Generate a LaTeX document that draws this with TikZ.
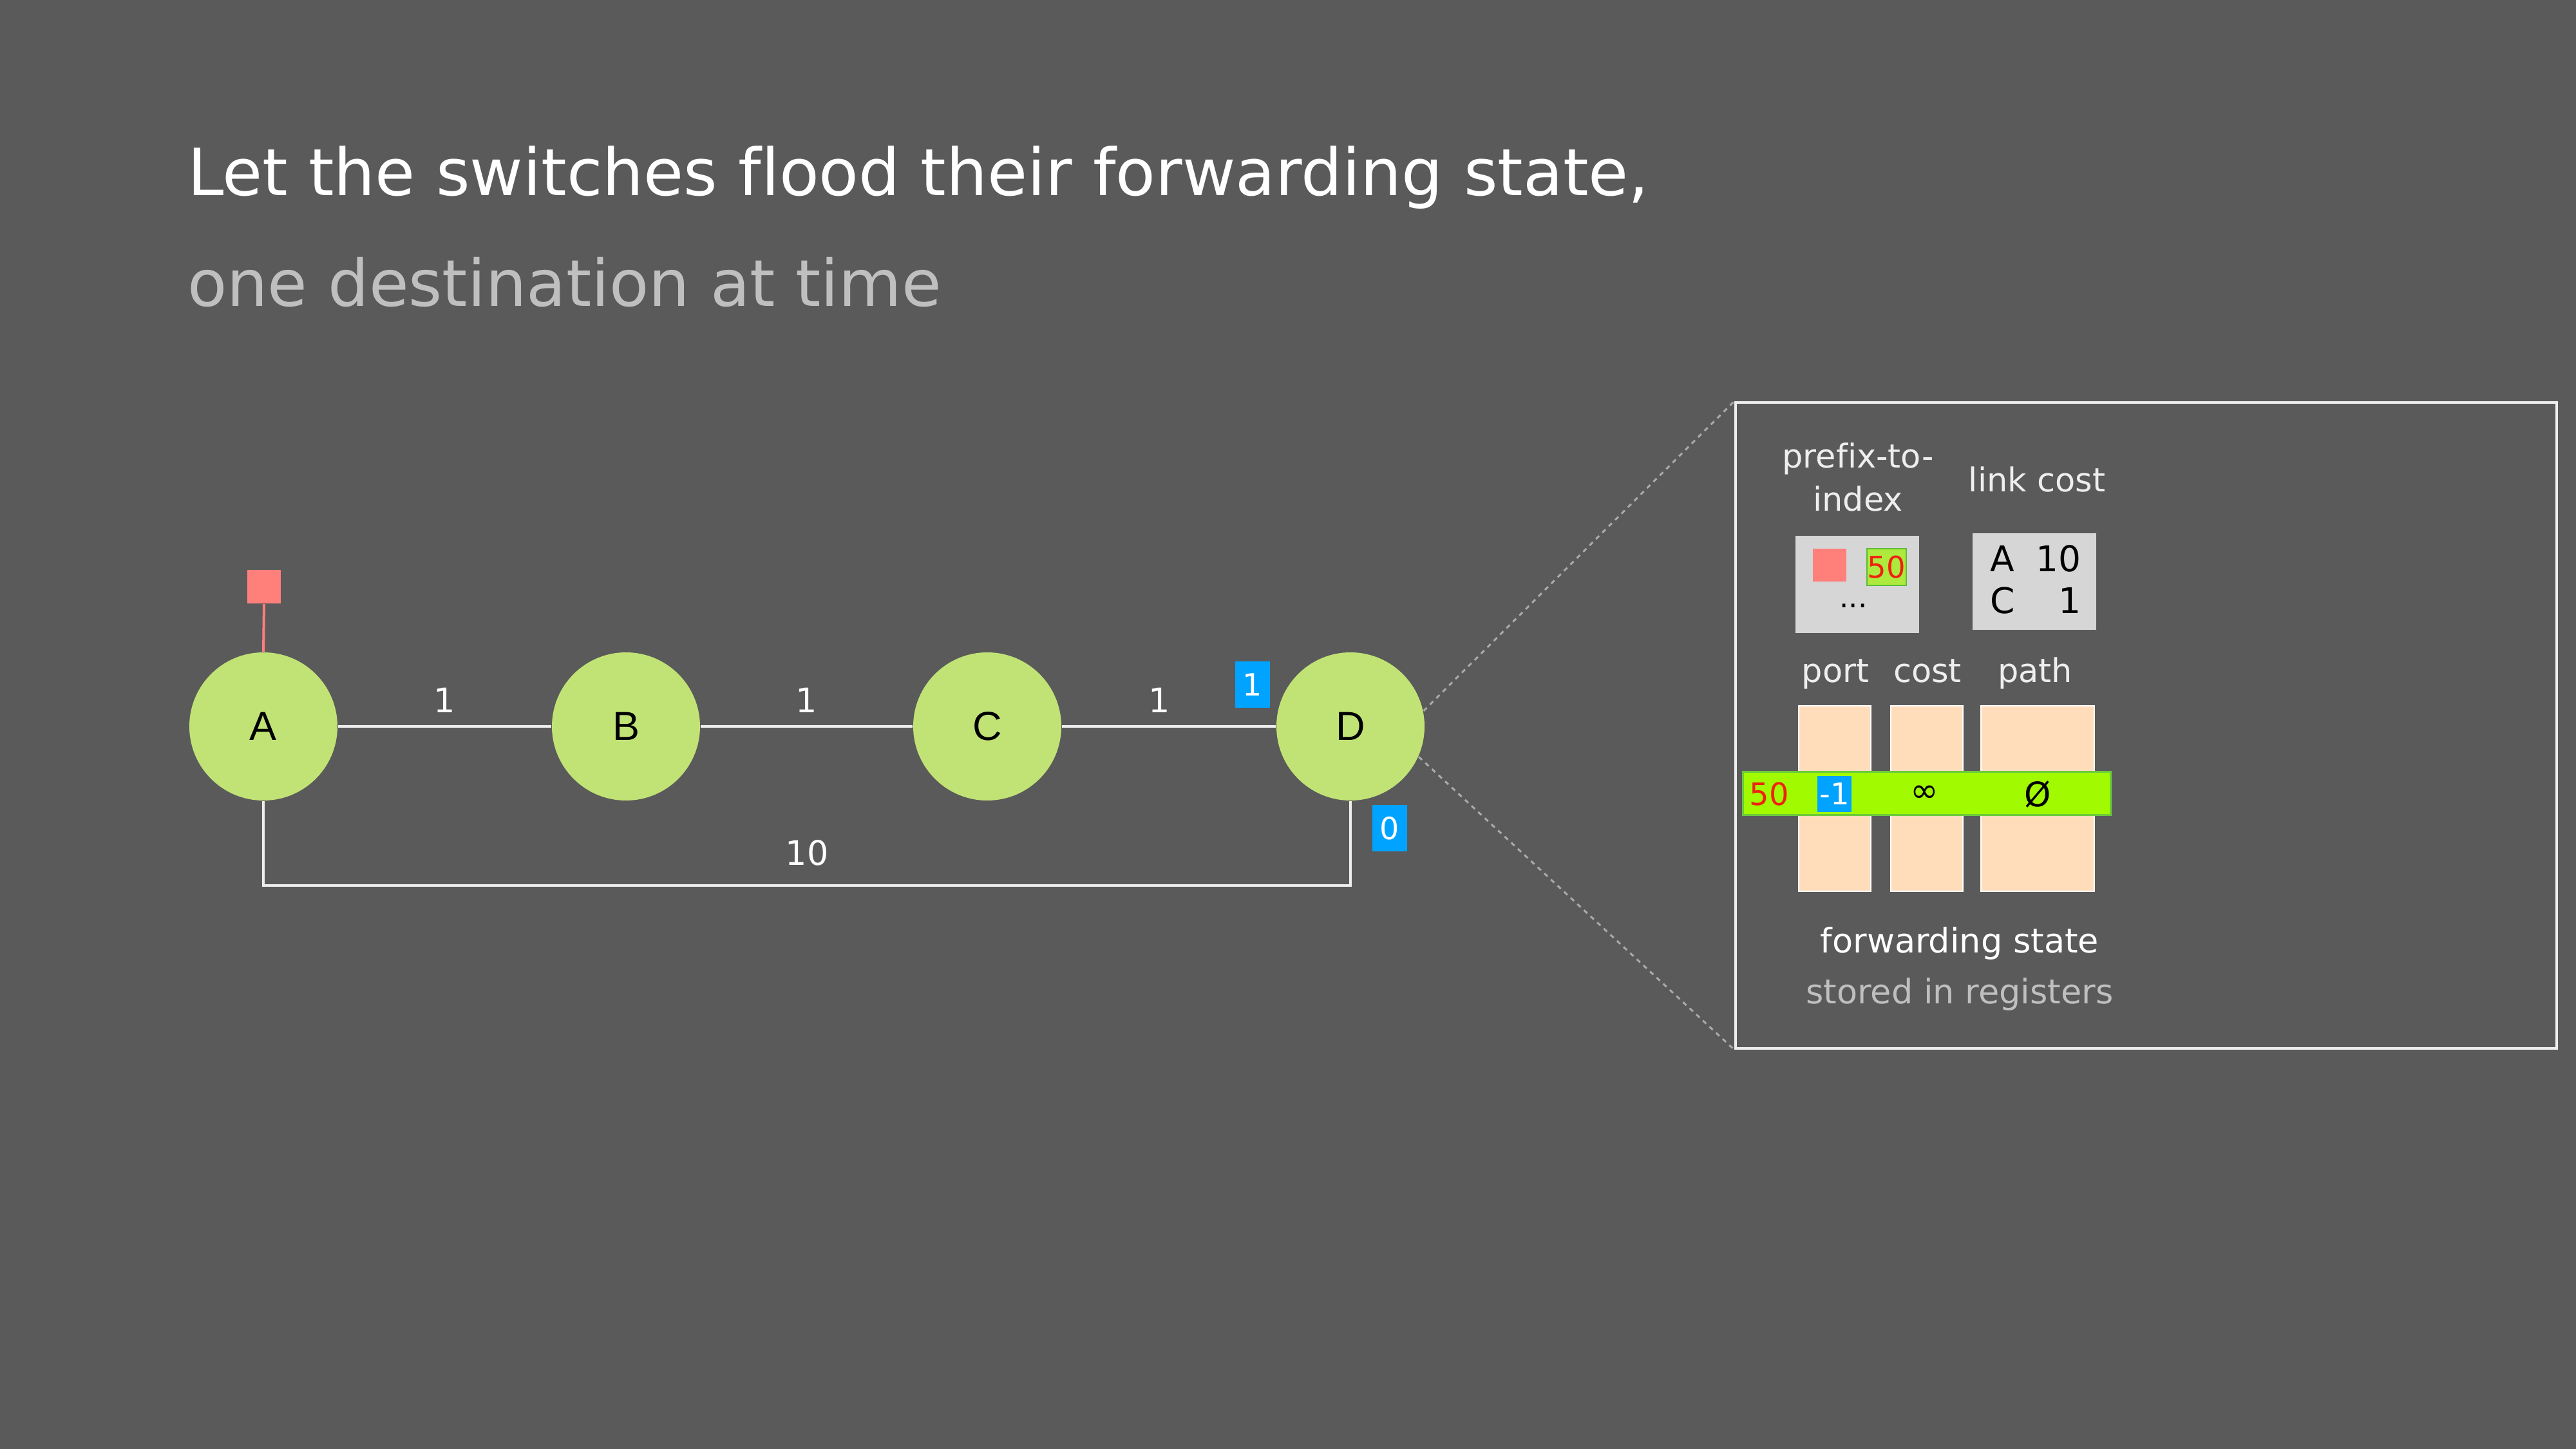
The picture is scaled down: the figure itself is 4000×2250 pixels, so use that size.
\documentclass[tikz,border=0pt]{standalone}
\usepackage{fontspec}
\setmainfont[Ligatures={NoCommon}]{DejaVu Sans}
\newfontfamily\helv{Liberation Sans}
\definecolor{bg}{HTML}{5A5A5A}
\definecolor{nodegreen}{HTML}{C1E376}
\definecolor{pfxred}{HTML}{FF7F7B}
\definecolor{portblue}{HTML}{00A3FF}
\definecolor{linegray}{HTML}{EEEEEE}
\definecolor{subgray}{HTML}{BFBFBF}
\definecolor{boxgray}{HTML}{D6D6D6}
\definecolor{peach}{HTML}{FFDDBB}
\definecolor{bargreen}{HTML}{A2FA00}
\definecolor{barborder}{HTML}{6BCB3A}
\definecolor{smallgreen}{HTML}{AEEA3E}
\definecolor{smallborder}{HTML}{5BBB3A}
\definecolor{numred}{HTML}{EE2211}
\definecolor{dashgray}{HTML}{AAAAAA}
\tikzset{
  switch/.style={circle, fill=nodegreen, minimum size=46pt, inner sep=0pt,
    font=\helv\fontsize{12.6}{14}\selectfont, text=black},
  link/.style={draw=linegray, line width=0.85pt},
  costlbl/.style={font=\fontsize{10.5}{12}\selectfont, text=white, inner sep=0pt},
  portbox/.style={fill=portblue, text=white, inner sep=0pt, minimum width=10.8pt,
    minimum height=14.4pt, font=\fontsize{9.5}{11}\selectfont},
  panellbl/.style={font=\fontsize{10.2}{12}\selectfont, text=linegray, inner sep=0pt},
  graybox/.style={fill=boxgray, inner sep=0pt},
  column/.style={fill=peach, draw=white, line width=0.5pt, inner sep=0pt},
  zoomline/.style={draw=dashgray, line width=0.6pt, dash pattern=on 1.4pt off 1.4pt},
}
\begin{document}
\begin{tikzpicture}[x=0.2pt, y=-0.2pt]
\fill[bg] (0,0) rectangle (4000,2250);
\useasboundingbox (0,0) rectangle (4000,2250);

% titles
\node[anchor=base west, inner sep=0pt, text=white, font=\fontsize{20.2}{24}\selectfont]
  (title) at (290,304) {Let the switches flood their forwarding state,};
\node[anchor=base west, inner sep=0pt, text=subgray, font=\fontsize{20.05}{24}\selectfont]
  (subtitle) at (290,476) {one destination at time};

% switches
\node[switch] (A) at (409,1128) {A};
\node[switch] (B) at (972,1128) {B};
\node[switch] (C) at (1533,1128) {C};
\node[switch] (D) at (2097,1128) {D};

% prefix square
\node[fill=pfxred, minimum size=10.4pt, inner sep=0pt] (pfx) at (410,911) {};
\draw[draw=pfxred, line width=0.8pt] (pfx.south) -- (A.north);

% links
\draw[link] (A) -- node[costlbl, above=3.8pt] {1} (B);
\draw[link] (B) -- node[costlbl, above=3.8pt] {1} (C);
\draw[link] (C) -- node[costlbl, above=3.8pt, pos=0.455] {1} (D);
\coordinate (AD) at (1253,1375);
\draw[link, line width=0.8pt] (A.south) |- (AD) -| node[costlbl, pos=0, above=5.8pt] {10} (D.south);

% port labels
\node[portbox] (p1) at (1945,1063) {1};
\node[portbox] (p0) at (2158,1286) {0};

% zoom panel
\node[draw=linegray, line width=0.8pt, minimum width=255pt, minimum height=200.6pt,
  inner sep=0pt] (panel) at (3332.5,1126.5) {};
\draw[zoomline] (D.12) -- (panel.north west);
\draw[zoomline] (D.-24) -- (panel.south west);

% prefix-to-index
\node[panellbl, anchor=base] (pti1) at (2885,727) {prefix-to-};
\node[panellbl, anchor=base] (pti2) at (2885,794) {index};
\node[panellbl, anchor=base] (lc) at (3163,763) {link cost};

\node[graybox, minimum width=38.4pt, minimum height=30.2pt] (pbox) at (2884,907.5) {};
\node[fill=pfxred, minimum width=10.4pt, minimum height=10.2pt, inner sep=0pt] (psq) at (2841,877.5) {};
\node[fill=smallgreen, draw=smallborder, line width=0.5pt, minimum width=12.2pt,
  minimum height=11.4pt, inner sep=0pt, text=numred, font=\fontsize{9.3}{11}\selectfont]
  (p50) at (2929.5,880.5) {50};
\node[inner sep=0pt, font=\fontsize{9}{11}\selectfont, text=black, anchor=base] (dots) at (2878,943) {...};

\node[graybox, minimum width=38.4pt, minimum height=30pt, text=black,
  font=\fontsize{11}{13}\selectfont] (lbox) at (3159,903) {};
\node[text=black, inner sep=0pt, font=\fontsize{11}{13}\selectfont] (lboxtxt) at (3161,907)
  {\begin{tabular}{@{}l@{\hspace{6.6pt}}r@{}}A & 10\\ C & 1\end{tabular}};

% forwarding state
\node[panellbl, anchor=base] (hport) at (2850,1059) {port};
\node[panellbl, anchor=base] (hcost) at (2993,1059) {cost};
\node[panellbl, anchor=base] (hpath) at (3160,1059) {path};

\node[column, minimum width=22.4pt, minimum height=57.6pt] (c1) at (2849,1240) {};
\node[column, minimum width=22.4pt, minimum height=57.6pt] (c2) at (2992,1240) {};
\node[column, minimum width=35.2pt, minimum height=57.6pt] (c3) at (3164,1240) {};

\node[fill=bargreen, draw=barborder, line width=0.6pt, minimum width=114.2pt,
  minimum height=13.4pt, inner sep=0pt] (bar) at (2991.5,1231.5) {};
\node[inner sep=0pt, text=numred, font=\fontsize{9.6}{11}\selectfont] (b50) at (2747,1233) {50};
\node[fill=portblue, text=white, inner sep=0pt, minimum width=10.6pt, minimum height=11.2pt,
  font=\fontsize{9.3}{11}\selectfont] (bport) at (2848.5,1233) {-1};
\node[inner sep=0pt, text=black, font=\fontsize{10.5}{12}\selectfont] (binf) at (2988,1233) {∞};
\node[inner sep=0pt, text=black, font=\fontsize{10.5}{12}\selectfont] (bpath) at (3164,1233) {Ø};

\node[anchor=base, inner sep=0pt, text=white, font=\fontsize{10.5}{12}\selectfont]
  (fs) at (3043,1479) {forwarding state};
\node[anchor=base, inner sep=0pt, text=subgray, font=\fontsize{10.5}{12}\selectfont]
  (sr) at (3043,1558) {stored in registers};
\end{tikzpicture}
\end{document}
